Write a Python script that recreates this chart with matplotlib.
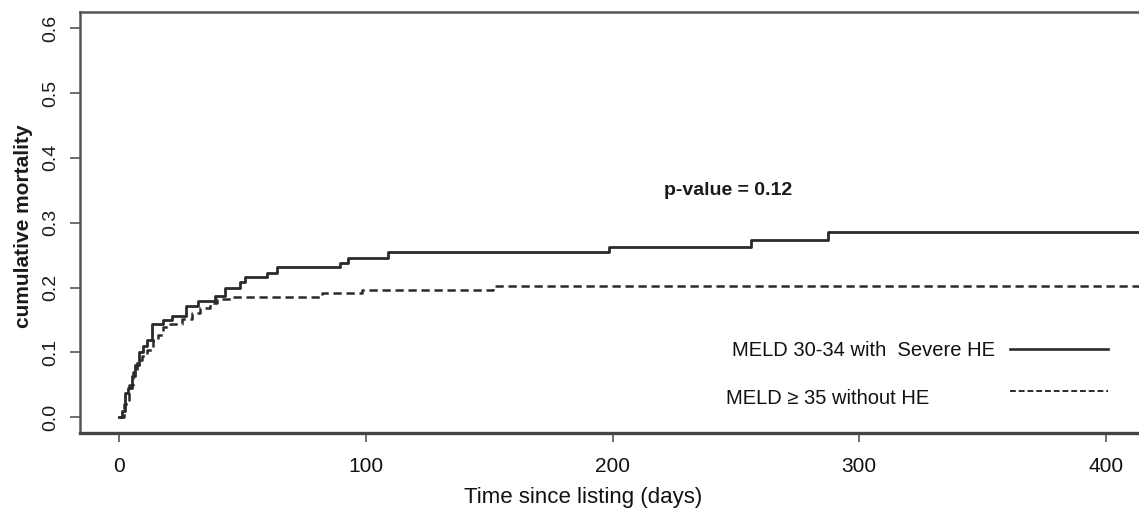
import matplotlib
matplotlib.use("Agg")
import matplotlib.pyplot as plt
from matplotlib.lines import Line2D

# solid curve: MELD 30-34 with severe HE
t_he = [0, 1, 2.3, 3.5, 5, 6.4, 8.1, 9.5, 11.1, 13.1, 17.8, 21.2, 27, 32, 38.8, 42.8,
        48.9, 51, 59.7, 63.8, 89.5, 92.8, 109, 198.6, 256.3, 287.4, 415]
m_he = [0, 0.01, 0.037, 0.045, 0.063, 0.081, 0.101, 0.110, 0.119, 0.144, 0.150, 0.156,
        0.171, 0.180, 0.187, 0.200, 0.209, 0.216, 0.223, 0.231, 0.238, 0.246, 0.255,
        0.263, 0.273, 0.285, 0.285]

# dashed curve: MELD >= 35 without HE
t_no = [0, 2, 4, 5.5, 7, 9, 11.1, 13.8, 15.8, 17.8, 20.5, 25.3, 29.3, 32.7, 36.8, 39.5,
        45.5, 82, 98.3, 151.6, 415]
m_no = [0, 0.02, 0.05, 0.07, 0.088, 0.095, 0.104, 0.12, 0.127, 0.14, 0.144, 0.152,
        0.161, 0.168, 0.176, 0.182, 0.186, 0.191, 0.197, 0.202, 0.202]

labels = ["MELD 30-34 with  Severe HE", "MELD \u2265 35 without HE"]
x_ticks = [0, 100, 200, 300, 400]
y_ticks = [0.0, 0.1, 0.2, 0.3, 0.4, 0.5, 0.6]

plt.rcParams["font.family"] = ["Liberation Sans", "DejaVu Sans"]

W, H = 1139, 516
fig = plt.figure(figsize=(W / 100, H / 100), dpi=100)
ax = fig.add_axes([80 / W, 0.161, 1 - 80 / W, 0.816])

line_col = "#2a2a2a"
ax.step(t_he, m_he, where="post", color=line_col, lw=2.0, label=labels[0])
ax.step(t_no, m_no, where="post", color=line_col, lw=1.8, dashes=(3.3, 1.9), label=labels[1])

ax.set_xlim(-16, 413.5)
ax.set_ylim(-0.024, 0.625)
ax.set_xticks(x_ticks)
ax.set_yticks(y_ticks)
ax.set_yticklabels([f"{v:.1f}" for v in y_ticks], rotation=90, va="center",
                   fontsize=14, color="#1a1a1a")
ax.set_xticklabels([str(v) for v in x_ticks], fontsize=15, color="#111111")

for s in ["left", "top"]:
    ax.spines[s].set_color("#555555")
    ax.spines[s].set_linewidth(1.8)
ax.spines["bottom"].set_color("#444444")
ax.spines["bottom"].set_linewidth(2.4)
ax.spines["right"].set_visible(False)

ax.tick_params(axis="y", direction="out", length=7, width=1.2, color="#555555", pad=8)
ax.tick_params(axis="x", direction="out", length=6.5, width=1.2, color="#555555", pad=11)

ax.set_ylabel("cumulative mortality", fontsize=15, fontweight="bold", color="#1a1a1a")
ax.yaxis.set_label_coords(-0.044, 0.49)
ax.set_xlabel("Time since listing (days)", fontsize=16, color="#111111")
ax.xaxis.set_label_coords(0.475, -0.128)

ax.text(247, 0.35, "p-value = 0.12", ha="center", va="center", fontsize=14,
        fontweight="bold", color="#1a1a1a")

# legend drawn R-style: text on the left, line sample on the right
leg_rows = [(732, 351, "-"), (726, 398, "--")]
for (tx, ty, ls), lab in zip(leg_rows, labels):
    fig.text(tx / W, 1 - ty / H, lab, ha="left", va="center", fontsize=14.5,
             color="#111111")
    ly = 1 - (ty - 2 if ls == "-" else ty - 7) / H
    ln = Line2D([1010 / W, 1108 / W], [ly, ly], transform=fig.transFigure,
                color=line_col, lw=1.9 if ls == "-" else 1.4,
                dashes=(None, None) if ls == "-" else (3.0, 1.5))
    fig.add_artist(ln)

fig.savefig("out.png", dpi=100)
